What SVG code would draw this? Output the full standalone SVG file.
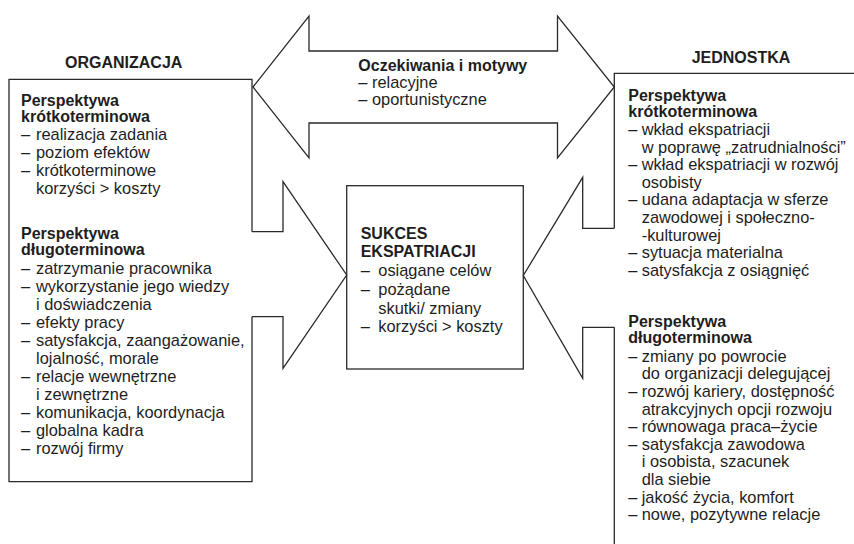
<svg xmlns="http://www.w3.org/2000/svg" width="854" height="544" viewBox="0 0 854 544">
<style>
.ln{fill:none;stroke:#2a2a2a;stroke-width:1.3;stroke-linejoin:miter}
text{font-family:"Liberation Sans",Arial,sans-serif;font-size:16.4px;fill:#1e1e1e}
.b{font-weight:bold;font-size:16px}
</style>
<rect x="0" y="0" width="854" height="544" fill="#ffffff"/>
<g id="connectors">
<path class="ln" d="M253,87 L309,16 V51 H557.5 V16 L614.3,87 L557.5,158 V123 H309 V158 Z" fill="#fff"/>
<path class="ln" d="M252,231.7 H283 V181.7 L346.7,275 L283,368.3 V316.7 H252"/>
<path class="ln" d="M614.3,228.3 H582.7 V177.3 L523.3,275.5 L582.7,378.3 V327.3 H614.3"/>
</g>
<g id="motywy">
<text x="358.3" y="71" class="b">Oczekiwania i motywy</text>
<text x="358.3" y="88">– relacyjne</text>
<text x="358.3" y="105">– oportunistyczne</text>
</g>
<g id="organizacja">
<path class="ln" d="M252,231.7 V79.3 H9 V481.7 H252 V316.7"/>
<text x="65" y="68.3" class="b">ORGANIZACJA</text>
<text x="21" y="105.5" class="b">Perspektywa</text>
<text x="21" y="121.5" class="b">krótkoterminowa</text>
<text x="21" y="140">–<tspan x="36">realizacja zadania</tspan></text>
<text x="21" y="158">–<tspan x="36">poziom efektów</tspan></text>
<text x="21" y="176">–<tspan x="36">krótkoterminowe</tspan></text>
<text x="36" y="194">korzyści &gt; koszty</text>
<text x="21" y="239" class="b">Perspektywa</text>
<text x="21" y="255" class="b">długoterminowa</text>
<text x="21" y="273.5">–<tspan x="36">zatrzymanie pracownika</tspan></text>
<text x="21" y="291.5">–<tspan x="36">wykorzystanie jego wiedzy</tspan></text>
<text x="36" y="309.5">i doświadczenia</text>
<text x="21" y="327.5">–<tspan x="36">efekty pracy</tspan></text>
<text x="21" y="345.5">–<tspan x="36">satysfakcja, zaangażowanie,</tspan></text>
<text x="36" y="363.5">lojalność, morale</text>
<text x="21" y="381.5">–<tspan x="36">relacje wewnętrzne</tspan></text>
<text x="36" y="399.5">i zewnętrzne</text>
<text x="21" y="417.5">–<tspan x="36">komunikacja, koordynacja</tspan></text>
<text x="21" y="435.5">–<tspan x="36">globalna kadra</tspan></text>
<text x="21" y="453.5">–<tspan x="36">rozwój firmy</tspan></text>
</g>
<g id="sukces">
<rect class="ln" x="346.7" y="185.7" width="176.6" height="183.3"/>
<text x="360.7" y="239" class="b">SUKCES</text>
<text x="360.7" y="257" class="b">EKSPATRIACJI</text>
<text x="360.7" y="276">–<tspan x="378.3">osiągane celów</tspan></text>
<text x="360.7" y="295">–<tspan x="378.3">pożądane</tspan></text>
<text x="378.3" y="313.5">skutki/ zmiany</text>
<text x="360.7" y="332">–<tspan x="378.3">korzyści &gt; koszty</tspan></text>
</g>
<g id="jednostka">
<path class="ln" d="M614.3,228.3 V73.3 H860 M614.3,327.3 V550"/>
<text x="691.7" y="62.7" class="b">JEDNOSTKA</text>
<text x="628.3" y="101" class="b">Perspektywa</text>
<text x="628.3" y="117.3" class="b">krótkoterminowa</text>
<text x="628.3" y="135">–<tspan x="641.7">wkład ekspatriacji</tspan></text>
<text x="641.7" y="152.6">w poprawę „zatrudnialności”</text>
<text x="628.3" y="170.2">–<tspan x="641.7">wkład ekspatriacji w rozwój</tspan></text>
<text x="641.7" y="187.8">osobisty</text>
<text x="628.3" y="205.4">–<tspan x="641.7">udana adaptacja w sferze</tspan></text>
<text x="641.7" y="223">zawodowej i społeczno-</text>
<text x="641.7" y="240.6">-kulturowej</text>
<text x="628.3" y="258.2">–<tspan x="641.7">sytuacja materialna</tspan></text>
<text x="628.3" y="275.8">–<tspan x="641.7">satysfakcja z osiągnięć</tspan></text>
<text x="628.3" y="326.7" class="b">Perspektywa</text>
<text x="628.3" y="343.3" class="b">długoterminowa</text>
<text x="628.3" y="361.7">–<tspan x="641.7">zmiany po powrocie</tspan></text>
<text x="641.7" y="379.3">do organizacji delegującej</text>
<text x="628.3" y="396.9">–<tspan x="641.7">rozwój kariery, dostępność</tspan></text>
<text x="641.7" y="414.5">atrakcyjnych opcji rozwoju</text>
<text x="628.3" y="432.1">–<tspan x="641.7">równowaga praca–życie</tspan></text>
<text x="628.3" y="449.7">–<tspan x="641.7">satysfakcja zawodowa</tspan></text>
<text x="641.7" y="467.3">i osobista, szacunek</text>
<text x="641.7" y="484.9">dla siebie</text>
<text x="628.3" y="502.5">–<tspan x="641.7">jakość życia, komfort</tspan></text>
<text x="628.3" y="520.1">–<tspan x="641.7">nowe, pozytywne relacje</tspan></text>
</g>
</svg>
